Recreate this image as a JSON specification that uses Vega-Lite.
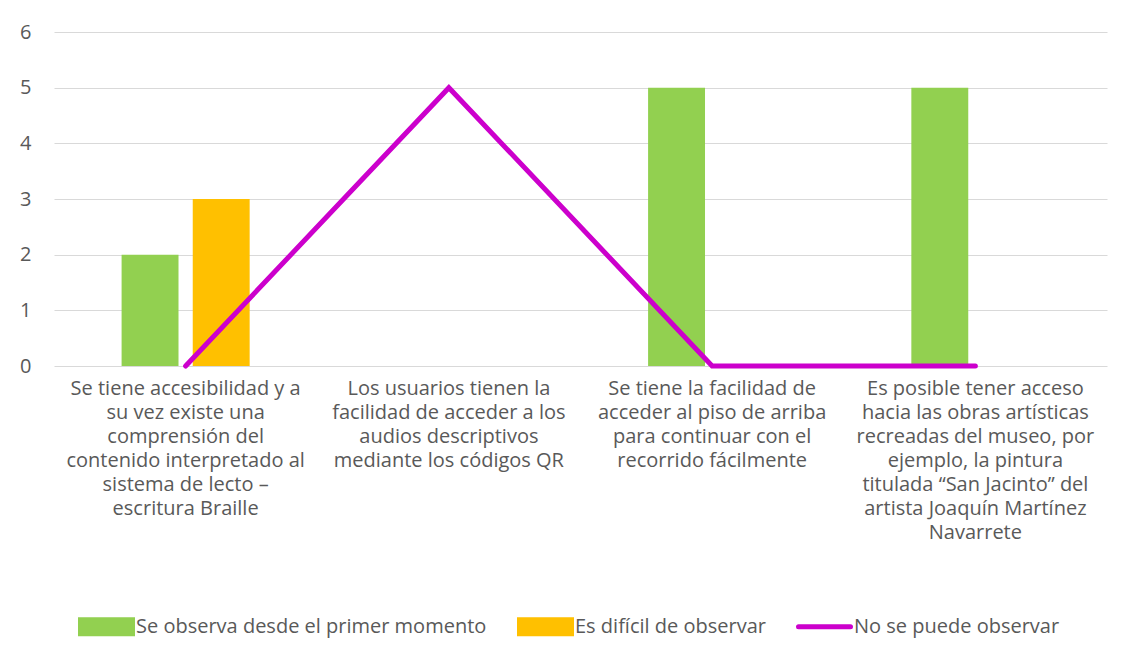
{
  "$schema": "https://vega.github.io/schema/vega-lite/v6.json",
  "width": 1053,
  "height": 334,
  "autosize": {"type": "none"},
  "padding": {"left": 54, "top": 32, "right": 27, "bottom": 298},
  "background": "white",
  "config": {
    "font": "Open Sans",
    "view": {"stroke": null},
    "axis": {"labelFont": "Open Sans", "labelColor": "#595959", "labelFontSize": 20}
  },
  "datasets": {
    "bars": [
      {"cat": "Se tiene accesibilidad y a|su vez existe una|comprensión del|contenido interpretado al|sistema de lecto –|escritura Braille", "serie": "Se observa desde el primer momento", "valor": 2},
      {"cat": "Se tiene accesibilidad y a|su vez existe una|comprensión del|contenido interpretado al|sistema de lecto –|escritura Braille", "serie": "Es difícil de observar", "valor": 3},
      {"cat": "Los usuarios tienen la|facilidad de acceder a los|audios descriptivos|mediante los códigos QR", "serie": "Se observa desde el primer momento", "valor": 0},
      {"cat": "Los usuarios tienen la|facilidad de acceder a los|audios descriptivos|mediante los códigos QR", "serie": "Es difícil de observar", "valor": 0},
      {"cat": "Se tiene la facilidad de|acceder al piso de arriba|para continuar con el|recorrido fácilmente", "serie": "Se observa desde el primer momento", "valor": 5},
      {"cat": "Se tiene la facilidad de|acceder al piso de arriba|para continuar con el|recorrido fácilmente", "serie": "Es difícil de observar", "valor": 0},
      {"cat": "Es posible tener acceso|hacia las obras artísticas|recreadas del museo, por|ejemplo, la pintura|titulada “San Jacinto” del|artista Joaquín Martínez|Navarrete", "serie": "Se observa desde el primer momento", "valor": 5},
      {"cat": "Es posible tener acceso|hacia las obras artísticas|recreadas del museo, por|ejemplo, la pintura|titulada “San Jacinto” del|artista Joaquín Martínez|Navarrete", "serie": "Es difícil de observar", "valor": 0}
    ],
    "linea": [
      {"cat": "Se tiene accesibilidad y a|su vez existe una|comprensión del|contenido interpretado al|sistema de lecto –|escritura Braille", "serie": "No se puede observar", "valor": 0},
      {"cat": "Los usuarios tienen la|facilidad de acceder a los|audios descriptivos|mediante los códigos QR", "serie": "No se puede observar", "valor": 5},
      {"cat": "Se tiene la facilidad de|acceder al piso de arriba|para continuar con el|recorrido fácilmente", "serie": "No se puede observar", "valor": 0},
      {"cat": "Es posible tener acceso|hacia las obras artísticas|recreadas del museo, por|ejemplo, la pintura|titulada “San Jacinto” del|artista Joaquín Martínez|Navarrete", "serie": "No se puede observar", "valor": 0}
    ]
  },
  "encoding": {
    "x": {
      "field": "cat", "type": "nominal", "sort": null,
      "scale": {
        "domain": [
          "Se tiene accesibilidad y a|su vez existe una|comprensión del|contenido interpretado al|sistema de lecto –|escritura Braille",
          "Los usuarios tienen la|facilidad de acceder a los|audios descriptivos|mediante los códigos QR",
          "Se tiene la facilidad de|acceder al piso de arriba|para continuar con el|recorrido fácilmente",
          "Es posible tener acceso|hacia las obras artísticas|recreadas del museo, por|ejemplo, la pintura|titulada “San Jacinto” del|artista Joaquín Martínez|Navarrete"
        ],
        "paddingInner": 0, "paddingOuter": 0
      },
      "axis": {
        "title": null, "labelAngle": 0, "domain": false, "ticks": false,
        "labelExpr": "split(datum.label, '|')", "labelLimit": 400,
        "labelLineHeight": 24, "labelPadding": 12, "labelBaseline": "top",
        "labelColor": "#595959"
      }
    },
    "y": {
      "field": "valor", "type": "quantitative",
      "scale": {"domain": [0, 6], "nice": false},
      "axis": {
        "title": null, "values": [0, 1, 2, 3, 4, 5, 6], "domain": false, "ticks": false,
        "gridColor": "#d9d9d9", "gridWidth": 1.2, "labelPadding": 23
      }
    },
    "color": {
      "field": "serie", "type": "nominal",
      "scale": {
        "domain": ["Se observa desde el primer momento", "Es difícil de observar", "No se puede observar"],
        "range": ["#92D050", "#FFC000", "#CC00CC"]
      },
      "legend": {
        "title": null, "orient": "none", "direction": "horizontal",
        "legendX": 24, "legendY": 566,
        "labelFont": "Open Sans", "labelFontSize": 20, "labelColor": "#595959", "labelLimit": 500,
        "symbolSize": 2704, "labelOffset": 1, "columnPadding": 22,
        "symbolStrokeWidth": 5,
        "encode": {
          "symbols": {
            "update": {
              "shape": {"signal": "datum.value == 'No se puede observar' ? 'M-1,-0.27M-1,0H1M1,0.27' : 'M-1,-0.27H1V0.27H-1Z'"},
              "fill": {"signal": "datum.value == 'No se puede observar' ? 'transparent' : scale('color', datum.value)"},
              "stroke": {"signal": "datum.value == 'No se puede observar' ? scale('color', datum.value) : 'transparent'"},
              "strokeWidth": {"value": 5},
              "strokeCap": {"value": "round"}
            }
          }
        }
      }
    }
  },
  "layer": [
    {
      "data": {"name": "bars"},
      "mark": {"type": "bar"},
      "encoding": {
        "xOffset": {
          "field": "serie", "type": "nominal",
          "scale": {"domain": ["Se observa desde el primer momento", "Es difícil de observar"], "paddingInner": 0.2, "paddingOuter": 0.95}
        }
      }
    },
    {
      "data": {"name": "linea"},
      "mark": {"type": "line", "strokeWidth": 5, "strokeCap": "round"},
      "encoding": {}
    }
  ]
}
